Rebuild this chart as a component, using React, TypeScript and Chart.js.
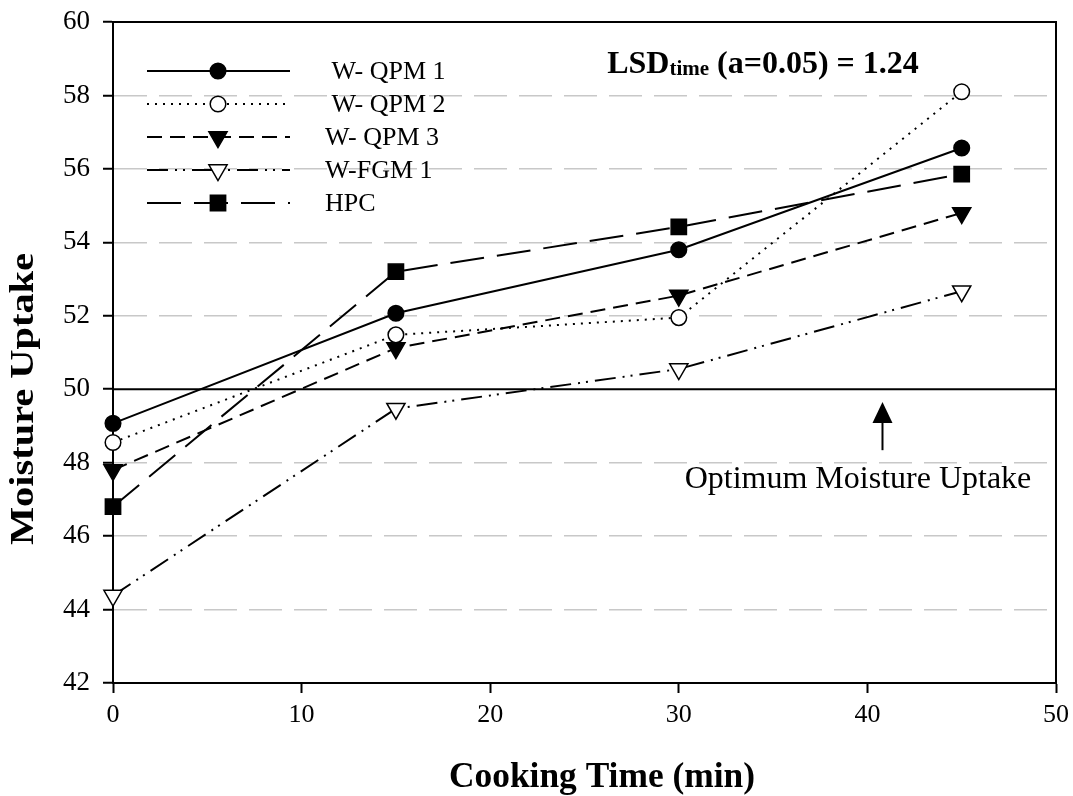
import React, { useEffect, useRef } from "react";
import { Chart, registerables } from "chart.js";

Chart.register(...registerables);

// Cooking time (min) at which moisture uptake was measured
const cookingTimes = [0, 15, 30, 45];

// Moisture uptake per variety
const wQpm1 = [49.07, 52.07, 53.8, 56.57];
const wQpm2 = [48.55, 51.48, 51.95, 58.1];
const wQpm3 = [47.8, 51.12, 52.55, 54.8];
const wFgm1 = [44.38, 49.47, 50.55, 52.67];
const hpc = [46.8, 53.2, 54.42, 55.86];

const seriesLabels = [" W- QPM 1", " W- QPM 2", "W- QPM 3", "W-FGM 1", "HPC"];

// Axis ranges / ticks
const xMin = 0;
const xMax = 50;
const xStep = 10;
const yMin = 42;
const yMax = 60;
const yStep = 2;
const xTitle = "Cooking Time (min)";
const yTitle = "Moisture Uptake";

// Reference level and statistics note
const optimumUptake = 50;
const optimumLabel = "Optimum Moisture Uptake";
const lsdMain = "LSD";
const lsdSub = "time";
const lsdRest = " (a=0.05) = 1.24";
const arrowTime = 40.8;

const SERIF = "'Times New Roman', 'Liberation Serif', serif";

type MarkerStyle = {
  shape: "circle" | "triangle" | "rect";
  filled: boolean;
  radius: number;
  dash: number[];
};

const styles: MarkerStyle[] = [
  { shape: "circle", filled: true, radius: 7.8, dash: [] },
  { shape: "circle", filled: false, radius: 7.8, dash: [2, 6] },
  { shape: "triangle", filled: true, radius: 10.5, dash: [15, 8] },
  { shape: "triangle", filled: false, radius: 10.5, dash: [21, 7, 2, 6, 2, 7] },
  { shape: "rect", filled: true, radius: 10.8, dash: [34, 13] },
];

const seriesValues = [wQpm1, wQpm2, wQpm3, wFgm1, hpc];

function drawMarker(ctx: CanvasRenderingContext2D, s: MarkerStyle, x: number, y: number) {
  ctx.save();
  ctx.setLineDash([]);
  ctx.lineWidth = 1.5;
  ctx.strokeStyle = "#000";
  ctx.fillStyle = s.filled ? "#000" : "#fff";
  ctx.beginPath();
  if (s.shape === "circle") {
    ctx.arc(x, y, s.radius, 0, Math.PI * 2);
  } else if (s.shape === "triangle") {
    let rad = Math.PI;
    ctx.moveTo(x + Math.sin(rad) * s.radius, y - Math.cos(rad) * s.radius);
    rad += (2 * Math.PI) / 3;
    ctx.lineTo(x + Math.sin(rad) * s.radius, y - Math.cos(rad) * s.radius);
    rad += (2 * Math.PI) / 3;
    ctx.lineTo(x + Math.sin(rad) * s.radius, y - Math.cos(rad) * s.radius);
    ctx.closePath();
  } else {
    const h = Math.SQRT1_2 * s.radius;
    ctx.rect(x - h, y - h, 2 * h, 2 * h);
  }
  ctx.fill();
  ctx.stroke();
  ctx.restore();
}

// Draws text centred at (cx, cy), stretched along its reading direction to `length`
function drawStretchedText(
  ctx: CanvasRenderingContext2D,
  text: string,
  font: string,
  cx: number,
  cy: number,
  length: number,
  rotation: number
) {
  ctx.save();
  ctx.font = font;
  const w = ctx.measureText(text).width;
  ctx.translate(cx, cy);
  ctx.rotate(rotation);
  ctx.scale(length / w, 1);
  ctx.fillStyle = "#000";
  ctx.textAlign = "center";
  ctx.textBaseline = "middle";
  ctx.fillText(text, 0, 0);
  ctx.restore();
}

const decorations = {
  id: "decorations",
  beforeDatasetsDraw(chart: any) {
    const { ctx, chartArea, scales } = chart;
    const y50 = scales.y.getPixelForValue(optimumUptake);
    ctx.save();
    ctx.strokeStyle = "#000";
    ctx.lineWidth = 2;
    ctx.setLineDash([]);
    // optimum level
    ctx.beginPath();
    ctx.moveTo(chartArea.left, y50);
    ctx.lineTo(chartArea.right, y50);
    ctx.stroke();
    // frame: top and right
    ctx.beginPath();
    ctx.moveTo(chartArea.left, chartArea.top);
    ctx.lineTo(chartArea.right, chartArea.top);
    ctx.lineTo(chartArea.right, chartArea.bottom);
    ctx.stroke();
    ctx.restore();
  },
  afterDatasetsDraw(chart: any) {
    const { ctx, chartArea, scales } = chart;
    ctx.save();

    // axis titles
    drawStretchedText(ctx, xTitle, `bold 35px ${SERIF}`, 602, 778, 306, 0);
    drawStretchedText(ctx, yTitle, `bold 33px ${SERIF}`, 24, 399, 292, -Math.PI / 2);

    // legend
    const lx0 = chartArea.left + 34;
    const lx1 = chartArea.left + 177;
    const mx = chartArea.left + 105;
    const tx = chartArea.left + 212;
    const ly0 = chartArea.top + 49;
    const rowGap = 33;
    styles.forEach((s, i) => {
      const y = ly0 + i * rowGap;
      ctx.save();
      ctx.strokeStyle = "#000";
      ctx.lineWidth = 2;
      ctx.setLineDash(s.dash);
      ctx.beginPath();
      ctx.moveTo(lx0, y);
      ctx.lineTo(lx1, y);
      ctx.stroke();
      ctx.restore();
      drawMarker(ctx, s, mx, y);
      ctx.fillStyle = "#000";
      ctx.font = `26px ${SERIF}`;
      ctx.textBaseline = "middle";
      ctx.textAlign = "left";
      ctx.fillText(seriesLabels[i], tx, y + 1);
    });

    // LSD note
    ctx.fillStyle = "#000";
    ctx.textBaseline = "alphabetic";
    ctx.textAlign = "left";
    let x = scales.x.getPixelForValue(26.2);
    const base = chartArea.top + 51;
    ctx.font = `bold 32px ${SERIF}`;
    ctx.fillText(lsdMain, x, base);
    x += ctx.measureText(lsdMain).width;
    ctx.font = `bold 21px ${SERIF}`;
    ctx.fillText(lsdSub, x, base + 2);
    x += ctx.measureText(lsdSub).width;
    ctx.font = `bold 32px ${SERIF}`;
    ctx.fillText(lsdRest, x, base);

    // arrow pointing at the optimum line
    const ax = scales.x.getPixelForValue(arrowTime);
    const tipY = scales.y.getPixelForValue(49.65);
    const headY = scales.y.getPixelForValue(49.08);
    const tailY = scales.y.getPixelForValue(48.34);
    ctx.strokeStyle = "#000";
    ctx.lineWidth = 2;
    ctx.beginPath();
    ctx.moveTo(ax, headY);
    ctx.lineTo(ax, tailY);
    ctx.stroke();
    ctx.beginPath();
    ctx.moveTo(ax, tipY);
    ctx.lineTo(ax - 10, headY);
    ctx.lineTo(ax + 10, headY);
    ctx.closePath();
    ctx.fill();

    // optimum label
    ctx.font = `32px ${SERIF}`;
    ctx.textAlign = "center";
    ctx.textBaseline = "alphabetic";
    ctx.fillText(optimumLabel, scales.x.getPixelForValue(39.5), scales.y.getPixelForValue(47.31));

    ctx.restore();
  },
};

export default function App() {
  const canvasRef = useRef<HTMLCanvasElement | null>(null);

  useEffect(() => {
    const canvas = canvasRef.current;
    if (!canvas) return;

    const datasets = seriesValues.map((vals, i) => {
      const s = styles[i];
      return {
        label: seriesLabels[i].trim(),
        data: cookingTimes.map((t, j) => ({ x: t, y: vals[j] })),
        borderColor: "#000",
        borderWidth: 2,
        borderDash: s.dash,
        borderCapStyle: "butt" as const,
        fill: false,
        tension: 0,
        pointStyle: s.shape,
        pointRotation: s.shape === "triangle" ? 180 : 0,
        pointRadius: s.radius,
        pointBackgroundColor: s.filled ? "#000" : "#fff",
        pointBorderColor: "#000",
        pointBorderWidth: 1.5,
        clip: false as const,
      };
    });

    const chart = new Chart(canvas, {
      type: "line",
      data: { datasets },
      options: {
        responsive: false,
        animation: false,
        devicePixelRatio: 1,
        layout: { padding: { top: 22, right: 17, left: 0, bottom: 0 } },
        plugins: {
          legend: { display: false },
          tooltip: { enabled: false },
        },
        scales: {
          x: {
            type: "linear",
            min: xMin,
            max: xMax,
            afterFit: (scale: any) => {
              scale.height = 113;
              scale.paddingLeft = 0;
              scale.paddingRight = 0;
            },
            ticks: {
              stepSize: xStep,
              color: "#000",
              padding: 7,
              font: { family: SERIF, size: 26 },
            },
            grid: {
              drawOnChartArea: false,
              drawTicks: true,
              tickLength: 10,
              tickColor: "#000",
              tickWidth: 2,
            },
            border: { display: true, color: "#000", width: 2 },
            title: { display: false },
          },
          y: {
            type: "linear",
            min: yMin,
            max: yMax,
            afterFit: (scale: any) => {
              scale.width = 113;
              scale.paddingTop = 0;
              scale.paddingBottom = 0;
            },
            ticks: {
              stepSize: yStep,
              color: "#000",
              padding: 13,
              font: { family: SERIF, size: 27 },
            },
            grid: {
              color: (c: any) => {
                const v = c.tick ? c.tick.value : null;
                if (v === yMin || v === yMax || v === optimumUptake) return "rgba(0,0,0,0)";
                return "#c8c8c8";
              },
              lineWidth: 1.5,
              drawTicks: true,
              tickLength: 10,
              tickColor: "#000",
              tickWidth: 2,
            },
            border: { display: true, color: "#000", width: 2, dash: [33, 12] },
            title: { display: false },
          },
        },
      },
      plugins: [decorations],
    } as any);

    return () => chart.destroy();
  }, []);

  return (
    <div style={{ position: "fixed", left: 0, top: 0, width: 1073, height: 796, background: "#fff" }}>
      <canvas ref={canvasRef} width={1073} height={796} style={{ display: "block", width: 1073, height: 796 }} />
    </div>
  );
}
